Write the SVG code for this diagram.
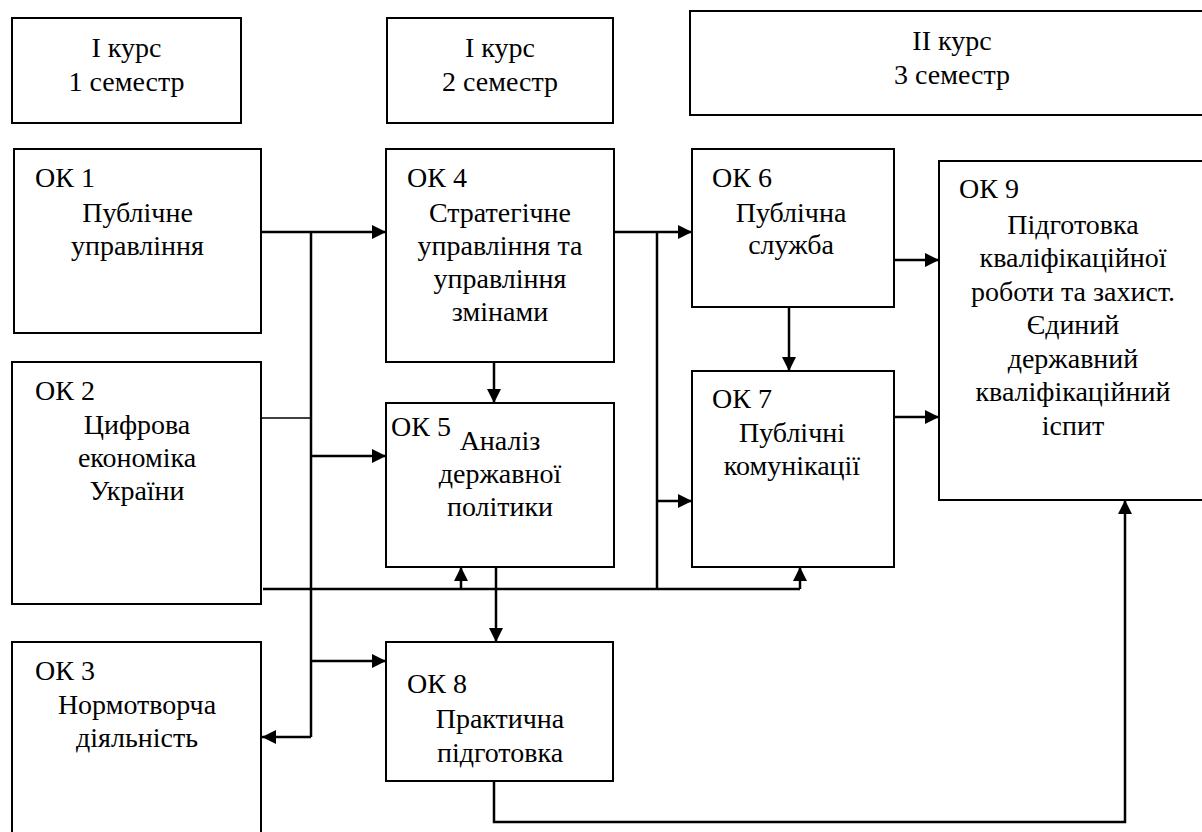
<svg xmlns="http://www.w3.org/2000/svg" width="1202" height="832" viewBox="0 0 1202 832" font-family="Liberation Serif, DejaVu Serif, serif" font-size="28">
<style>
.box{fill:#fff;stroke:#000;stroke-width:2}
.c{text-anchor:middle}
.ln{fill:none;stroke:#000;stroke-width:2.5}
.thin{fill:none;stroke:#000;stroke-width:1.5}
</style>
<defs>
<marker id="ah" viewBox="0 0 14 14" refX="14" refY="7" markerWidth="14" markerHeight="14" markerUnits="userSpaceOnUse" orient="auto">
<path d="M0,0 L14,7 L0,14 z" fill="#000"/>
</marker>
</defs>
<rect width="1202" height="832" fill="#fff"/>
<g id="sem1">
<rect class="box" x="12" y="18" width="229" height="105"/>
<text class="c" x="126.5" y="57">I курс</text>
<text class="c" x="126.5" y="91">1 семестр</text>
</g>
<g id="sem2">
<rect class="box" x="387" y="18" width="226" height="105"/>
<text class="c" x="500" y="57">I курс</text>
<text class="c" x="500" y="91">2 семестр</text>
</g>
<g id="sem3">
<rect class="box" x="690" y="11" width="530" height="104"/>
<text class="c" x="952" y="50">II курс</text>
<text class="c" x="952" y="84">3 семестр</text>
</g>
<g id="ok1">
<rect class="box" x="14" y="149" width="247" height="184"/>
<text x="35" y="187">ОК 1</text>
<text class="c" x="137.5" y="222">Публічне</text>
<text class="c" x="137.5" y="255">управління</text>
</g>
<g id="ok2">
<rect class="box" x="12" y="362" width="249" height="242"/>
<text x="35" y="400">ОК 2</text>
<text class="c" x="137" y="434">Цифрова</text>
<text class="c" x="137" y="467">економіка</text>
<text class="c" x="137" y="500">України</text>
</g>
<g id="ok3">
<rect class="box" x="12" y="642" width="249" height="200"/>
<text x="35" y="680">ОК 3</text>
<text class="c" x="137" y="714">Нормотворча</text>
<text class="c" x="137" y="747">діяльність</text>
</g>
<g id="ok4">
<rect class="box" x="386" y="149" width="228" height="213"/>
<text x="407" y="187">ОК 4</text>
<text class="c" x="500" y="222">Стратегічне</text>
<text class="c" x="500" y="255">управління та</text>
<text class="c" x="500" y="288">управління</text>
<text class="c" x="500" y="321">змінами</text>
</g>
<g id="ok5">
<rect class="box" x="386" y="403" width="228" height="164"/>
<text x="391" y="436">ОК 5</text>
<text class="c" x="500" y="450">Аналіз</text>
<text class="c" x="500" y="483">державної</text>
<text class="c" x="500" y="516">політики</text>
</g>
<g id="ok6">
<rect class="box" x="692" y="149" width="202" height="158"/>
<text x="712" y="187">ОК 6</text>
<text class="c" x="791" y="222">Публічна</text>
<text class="c" x="791" y="254">служба</text>
</g>
<g id="ok7">
<rect class="box" x="692" y="371" width="202" height="196"/>
<text x="712" y="408">ОК 7</text>
<text class="c" x="792" y="442">Публічні</text>
<text class="c" x="792" y="475">комунікації</text>
</g>
<g id="ok8">
<rect class="box" x="386" y="642" width="227" height="139"/>
<text x="407" y="693">ОК 8</text>
<text class="c" x="500" y="728">Практична</text>
<text class="c" x="500" y="762">підготовка</text>
</g>
<g id="ok9">
<rect class="box" x="939" y="161" width="270" height="339"/>
<text x="959" y="198">ОК 9</text>
<text class="c" x="1073" y="234">Підготовка</text>
<text class="c" x="1073" y="267">кваліфікаційної</text>
<text class="c" x="1073" y="301">роботи та захист.</text>
<text class="c" x="1073" y="334">Єдиний</text>
<text class="c" x="1073" y="368">державний</text>
<text class="c" x="1073" y="401">кваліфікаційний</text>
<text class="c" x="1073" y="435">іспит</text>
</g>
<g id="connectors">
<line class="ln" x1="261" y1="232" x2="386" y2="232" marker-end="url(#ah)"/>
<line class="ln" x1="311" y1="232" x2="311" y2="737"/>
<line class="thin" x1="261" y1="418" x2="311" y2="418"/>
<line class="ln" x1="311" y1="456" x2="386" y2="456" marker-end="url(#ah)"/>
<line class="ln" x1="311" y1="661" x2="386" y2="661" marker-end="url(#ah)"/>
<line class="ln" x1="311" y1="737" x2="262" y2="737" marker-end="url(#ah)"/>
<line class="ln" x1="494" y1="362" x2="494" y2="403" marker-end="url(#ah)"/>
<line class="ln" x1="496" y1="567" x2="496" y2="642" marker-end="url(#ah)"/>
<line class="ln" x1="263" y1="589" x2="800" y2="589"/>
<line class="ln" x1="461" y1="589" x2="461" y2="567" marker-end="url(#ah)"/>
<line class="ln" x1="800" y1="589" x2="800" y2="567" marker-end="url(#ah)"/>
<line class="ln" x1="614" y1="232" x2="692" y2="232" marker-end="url(#ah)"/>
<line class="ln" x1="657" y1="232" x2="657" y2="589"/>
<line class="ln" x1="657" y1="501" x2="692" y2="501" marker-end="url(#ah)"/>
<line class="ln" x1="789" y1="307" x2="789" y2="371" marker-end="url(#ah)"/>
<line class="ln" x1="894" y1="260" x2="939" y2="260" marker-end="url(#ah)"/>
<line class="ln" x1="894" y1="417" x2="939" y2="417" marker-end="url(#ah)"/>
<polyline class="ln" points="494,781 494,822 1125,822 1125,500" marker-end="url(#ah)"/>
</g>
</svg>
